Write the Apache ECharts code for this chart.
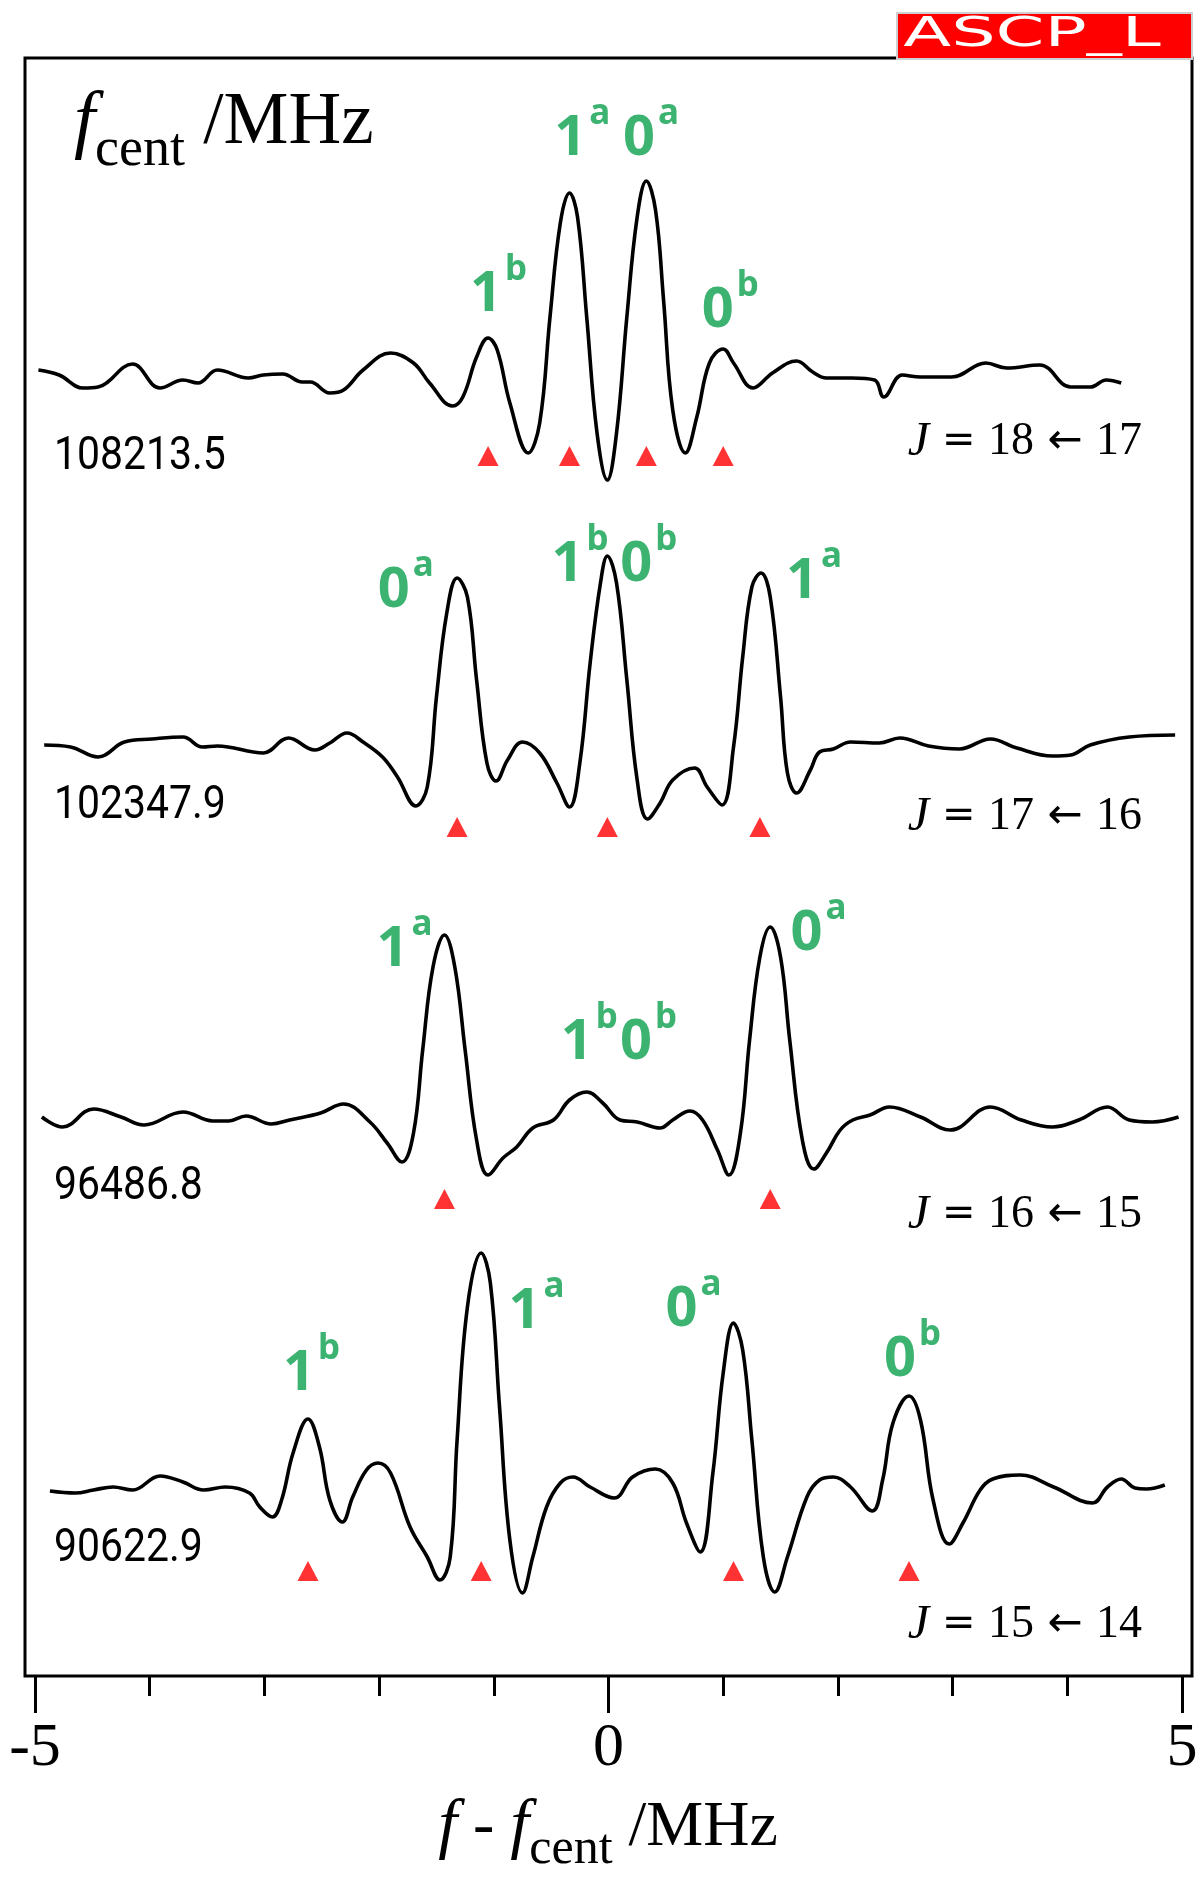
<!DOCTYPE html>
<html><head><meta charset="utf-8">
<script src="https://cdn.jsdelivr.net/npm/echarts@6/dist/echarts.min.js"></script>
<style>html,body{margin:0;padding:0;background:#fff}#c{width:1200px;height:1884px}</style>
</head><body><div id="c"></div>
<script>
// ---------------- data ----------------
const xTickLabels = ['-5', '0', '5'];
const centerFreqs = ['108213.5', '102347.9', '96486.8', '90622.9'];
const transitions = [['18', '17'], ['17', '16'], ['16', '15'], ['15', '14']];

// spectra: [f - fcent (MHz), intensity (arb. units)]
const trace1 = [[-4.97,0.10],[-4.79,0.05],[-4.58,-0.08],[-4.45,-0.07],[-4.15,0.16],[-3.91,-0.08],[-3.71,0.00],[-3.58,-0.03],[-3.41,0.10],[-3.14,0.02],[-3.01,0.05],[-2.84,0.06],[-2.67,-0.02],[-2.60,-0.02],[-2.43,-0.13],[-2.31,-0.10],[-2.14,0.10],[-1.90,0.27],[-1.70,0.17],[-1.56,-0.03],[-1.36,-0.26],[-1.27,-0.17],[-1.15,0.23],[-1.05,0.42],[-0.97,0.30],[-0.86,-0.23],[-0.70,-0.73],[-0.60,-0.43],[-0.51,0.63],[-0.42,1.57],[-0.34,1.87],[-0.27,1.63],[-0.19,0.63],[-0.10,-0.53],[-0.01,-1.00],[0.07,-0.53],[0.16,0.63],[0.25,1.63],[0.33,1.99],[0.41,1.70],[0.48,0.80],[0.56,-0.30],[0.67,-0.73],[0.77,-0.37],[0.88,0.17],[1.00,0.31],[1.09,0.17],[1.26,-0.08],[1.43,0.07],[1.64,0.19],[1.78,0.08],[1.90,0.02],[2.12,0.02],[2.32,0.00],[2.40,-0.17],[2.56,0.05],[2.72,0.03],[2.99,0.03],[3.29,0.17],[3.47,0.12],[3.76,0.15],[4.03,-0.07],[4.20,-0.07],[4.34,0.00],[4.47,-0.03]];
const trace2 = [[-4.92,0.00],[-4.69,-0.02],[-4.45,-0.12],[-4.22,0.03],[-3.98,0.06],[-3.71,0.08],[-3.54,-0.02],[-3.41,-0.01],[-3.01,-0.08],[-2.79,0.07],[-2.56,-0.05],[-2.43,0.02],[-2.28,0.12],[-2.14,0.03],[-1.97,-0.12],[-1.84,-0.32],[-1.68,-0.61],[-1.58,-0.42],[-1.50,0.48],[-1.41,1.32],[-1.32,1.67],[-1.23,1.48],[-1.15,0.65],[-1.06,-0.18],[-0.98,-0.36],[-0.88,-0.15],[-0.75,0.03],[-0.60,-0.08],[-0.45,-0.38],[-0.34,-0.62],[-0.25,-0.18],[-0.16,0.82],[-0.07,1.62],[-0.01,1.89],[0.07,1.62],[0.16,0.65],[0.25,-0.35],[0.34,-0.74],[0.45,-0.58],[0.56,-0.35],[0.75,-0.23],[0.86,-0.42],[0.99,-0.60],[1.09,-0.02],[1.17,0.88],[1.25,1.58],[1.33,1.72],[1.41,1.48],[1.50,0.48],[1.56,-0.28],[1.64,-0.48],[1.76,-0.25],[1.84,-0.07],[1.96,-0.04],[2.11,0.03],[2.36,0.02],[2.54,0.07],[2.79,-0.01],[3.06,-0.04],[3.33,0.06],[3.56,-0.03],[3.87,-0.11],[4.03,-0.10],[4.20,0.00],[4.54,0.08],[4.94,0.10]];
const trace3 = [[-4.94,0.01],[-4.76,-0.09],[-4.49,0.09],[-4.25,0.01],[-4.05,-0.07],[-3.71,0.06],[-3.45,-0.03],[-3.31,-0.03],[-3.16,0.02],[-2.94,-0.06],[-2.78,-0.02],[-2.51,0.05],[-2.31,0.14],[-2.08,-0.04],[-1.93,-0.25],[-1.80,-0.44],[-1.70,-0.15],[-1.62,0.68],[-1.53,1.51],[-1.43,1.83],[-1.34,1.51],[-1.25,0.68],[-1.15,-0.22],[-1.05,-0.57],[-0.92,-0.40],[-0.80,-0.29],[-0.66,-0.10],[-0.48,-0.02],[-0.34,0.18],[-0.19,0.26],[-0.05,0.15],[0.10,-0.02],[0.25,-0.04],[0.45,-0.10],[0.56,-0.02],[0.71,0.07],[0.82,-0.02],[0.95,-0.32],[1.05,-0.57],[1.15,-0.15],[1.23,0.78],[1.32,1.61],[1.41,1.91],[1.50,1.61],[1.58,0.78],[1.69,-0.22],[1.79,-0.51],[1.90,-0.35],[2.02,-0.12],[2.13,-0.02],[2.28,0.03],[2.45,0.11],[2.72,0.01],[2.98,-0.12],[3.33,0.11],[3.60,-0.02],[3.87,-0.09],[4.10,-0.02],[4.35,0.11],[4.54,-0.02],[4.74,-0.04],[4.97,0.01]];
const trace4 = [[-4.87,-0.04],[-4.65,-0.06],[-4.49,-0.03],[-4.32,0.00],[-4.15,-0.03],[-3.91,0.11],[-3.71,0.05],[-3.53,-0.03],[-3.34,0.00],[-3.13,-0.06],[-3.04,-0.20],[-2.93,-0.30],[-2.85,-0.13],[-2.75,0.34],[-2.62,0.68],[-2.52,0.40],[-2.43,-0.13],[-2.32,-0.35],[-2.23,-0.10],[-2.11,0.17],[-2.01,0.24],[-1.90,0.14],[-1.73,-0.40],[-1.58,-0.70],[-1.47,-0.93],[-1.38,-0.70],[-1.32,0.47],[-1.23,1.80],[-1.11,2.34],[-1.03,2.04],[-0.95,0.80],[-0.86,-0.53],[-0.75,-1.06],[-0.66,-0.70],[-0.54,-0.20],[-0.42,0.04],[-0.31,0.10],[-0.16,0.00],[0.05,-0.11],[0.21,0.10],[0.41,0.18],[0.56,0.04],[0.68,-0.36],[0.80,-0.65],[0.91,0.14],[1.00,1.14],[1.09,1.64],[1.17,1.37],[1.25,0.47],[1.35,-0.70],[1.45,-1.05],[1.56,-0.70],[1.73,-0.10],[1.84,0.07],[1.96,0.10],[2.11,0.00],[2.30,-0.24],[2.39,0.07],[2.48,0.64],[2.62,0.91],[2.72,0.67],[2.83,-0.13],[2.97,-0.57],[3.09,-0.36],[3.24,-0.03],[3.35,0.08],[3.59,0.12],[3.88,0.00],[4.22,-0.16],[4.35,0.00],[4.47,0.08],[4.59,-0.01],[4.69,-0.02],[4.85,0.02]];

// predicted line positions (red triangles)
const markers1 = [[-1.05,-0.76],[-0.34,-0.76],[0.33,-0.76],[1.00,-0.76]];
const markers2 = [[-1.32,-0.82],[-0.01,-0.82],[1.32,-0.82]];
const markers3 = [[-1.43,-0.81],[1.41,-0.81]];
const markers4 = [[-2.62,-0.84],[-1.11,-0.84],[1.09,-0.84],[2.62,-0.84]];

// peak assignments: [text, x, y]
const labels1 = [['1^a',-0.22,2.47],['0^a',0.38,2.47],['1^b',-0.95,0.91],['0^b',1.07,0.75]];
const labels2 = [['0^a',-1.76,1.60],['1^b',-0.24,1.86],['0^b',0.36,1.86],['1^a',1.80,1.69]];
const labels3 = [['1^a',-1.77,1.74],['1^b0^b',0.10,0.81],['0^a',1.84,1.90]];
const labels4 = [['1^b',-2.58,1.19],['1^a',-0.62,1.81],['0^a',0.75,1.83],['0^b',2.66,1.33]];

// ---------------- layout / build ----------------
const traces = [trace1, trace2, trace3, trace4];
const markers = [markers1, markers2, markers3, markers4];
const labels = [labels1, labels2, labels3, labels4];
const baselinePx = [380, 745, 1118, 1487];
const freqLabelY = [457, 806, 1187, 1549];
const jLabelY = [442, 817, 1215, 1625];
const GREEN = '#3cb371';
const SERIF = '"Liberation Serif", "Times New Roman", serif';

const grid = [
  {left: 25, top: 58, width: 1167, height: 1618, show: true, borderColor: '#000', borderWidth: 3, backgroundColor: 'transparent', containLabel: false, outerBoundsMode: 'none'},
  {left: 35, top: 58, width: 1147, height: 1618, containLabel: false, outerBoundsMode: 'none'}
];
const xAxis = [
  {gridIndex: 0, type: 'value', min: 0, max: 1, show: false},
  {gridIndex: 1, type: 'value', min: -5, max: 5, interval: 5, position: 'bottom',
    axisLine: {show: false},
    axisTick: {show: true, inside: false, length: 37, lineStyle: {color: '#000', width: 3}},
    minorTick: {show: true, splitNumber: 5, length: 20, lineStyle: {color: '#000', width: 3}},
    splitLine: {show: false}, minorSplitLine: {show: false},
    axisLabel: {show: true, margin: 42, color: '#000', fontFamily: SERIF, fontSize: 62,
      formatter: v => xTickLabels[[-5, 0, 5].indexOf(v)] || ''}}
];
const yAxis = [
  {gridIndex: 0, type: 'value', min: 0, max: 1, show: false},
  {gridIndex: 1, type: 'value', min: 0, max: 1, show: false}
];
const series = [];
function richLabel(s) {
  return s.replace(/(\d)\^(\w)/g, '{n|$1}{s|$2}');
}
traces.forEach((tr, i) => {
  grid.push({left: 35, top: baselinePx[i] - 250, width: 1147, height: 400, containLabel: false, outerBoundsMode: 'none'});
  const gi = i + 2;
  xAxis.push({gridIndex: gi, type: 'value', min: -5, max: 5, show: false});
  yAxis.push({gridIndex: gi, type: 'value', min: -1.5, max: 2.5, show: false});
  series.push({type: 'line', xAxisIndex: gi, yAxisIndex: gi, data: tr, smooth: 0.4, symbol: 'none',
    lineStyle: {color: '#000', width: 3.6}, z: 3, silent: true});
  series.push({type: 'scatter', xAxisIndex: gi, yAxisIndex: gi, data: markers[i], symbol: 'triangle',
    symbolSize: [21, 20], itemStyle: {color: '#ff0000'}, z: 4, silent: true});
  series.push({type: 'scatter', xAxisIndex: gi, yAxisIndex: gi, clip: false,
    data: labels[i].map(l => ({value: [l[1], l[2]], name: l[0]})),
    symbolSize: 1, itemStyle: {color: 'rgba(255,255,255,0)'}, z: 5, silent: true,
    label: {show: true, position: 'inside', offset: [0, 6], opacity: 1, formatter: p => richLabel(p.name),
      rich: {
        n: {fontFamily: '"Noto Sans"', fontWeight: 'bold', fontSize: 56, lineHeight: 56, color: GREEN, verticalAlign: 'bottom'},
        s: {fontFamily: '"Noto Sans"', fontWeight: 'bold', fontSize: 35, lineHeight: 35, color: GREEN, verticalAlign: 'bottom', padding: [0, 2, 35, 3]}
      }}});
});

const graphic = [];
centerFreqs.forEach((f, i) => {
  graphic.push({type: 'text', x: 54, y: freqLabelY[i], scaleX: 0.89, z: 10,
    style: {text: f, fontFamily: 'Roboto', fontSize: 46, fill: '#000', align: 'left', verticalAlign: 'middle'}});
  graphic.push({type: 'text', x: 1142, y: jLabelY[i], z: 10,
    style: {text: '{j|J}{o| = }{d|' + transitions[i][0] + '}{a| \u2190 }{d|' + transitions[i][1] + '}',
      align: 'right', verticalAlign: 'middle',
      rich: {
        j: {fontFamily: SERIF, fontStyle: 'italic', fontSize: 48, fill: '#000'},
        o: {fontFamily: '"DejaVu Sans"', fontSize: 40, fill: '#000'},
        a: {fontFamily: '"DejaVu Sans"', fontSize: 42, fill: '#000'},
        d: {fontFamily: SERIF, fontSize: 46, fill: '#000'}
      }}});
});
// top-left label
graphic.push({type: 'text', x: 74, y: 102, z: 10,
  style: {text: '{f|f}{s|cent}{m| /MHz}', align: 'left', verticalAlign: 'top',
    rich: {
      f: {fontFamily: SERIF, fontStyle: 'italic', fontSize: 76, lineHeight: 76, verticalAlign: 'bottom', padding: [0, 0, 16, 0], fill: '#000'},
      s: {fontFamily: SERIF, fontSize: 54, lineHeight: 54, verticalAlign: 'bottom', fill: '#000'},
      m: {fontFamily: SERIF, fontSize: 73, lineHeight: 73, verticalAlign: 'bottom', padding: [0, 0, 18, 0], fill: '#000'}
    }}});
// bottom axis title
graphic.push({type: 'text', x: 608, y: 1807, z: 10,
  style: {text: '{f|f}{m| - }{f|f}{s|cent}{m| /MHz}', align: 'center', verticalAlign: 'top',
    rich: {
      f: {fontFamily: SERIF, fontStyle: 'italic', fontSize: 68, lineHeight: 68, verticalAlign: 'bottom', padding: [0, 0, 13, 0], fill: '#000'},
      s: {fontFamily: SERIF, fontSize: 50, lineHeight: 50, verticalAlign: 'bottom', fill: '#000'},
      m: {fontFamily: SERIF, fontSize: 64, lineHeight: 64, verticalAlign: 'bottom', padding: [0, 0, 15, 0], fill: '#000'}
    }}});
// ASCP_L tag
graphic.push({type: 'rect', z: 20, shape: {x: 897, y: 13, width: 295, height: 46},
  style: {fill: '#ff0000', stroke: '#cfcfcf', lineWidth: 2}});
graphic.push({type: 'text', x: 1032, y: 36, scaleX: 1.75, z: 21,
  style: {text: 'ASCP_L', fontFamily: '"DejaVu Sans"', fontSize: 40, fill: '#fff', align: 'center', verticalAlign: 'middle'}});

const chart = echarts.init(document.getElementById('c'), null, {renderer: 'canvas'});
chart.setOption({animation: false, backgroundColor: '#fff', grid, xAxis, yAxis, series, graphic});
</script></body></html>
